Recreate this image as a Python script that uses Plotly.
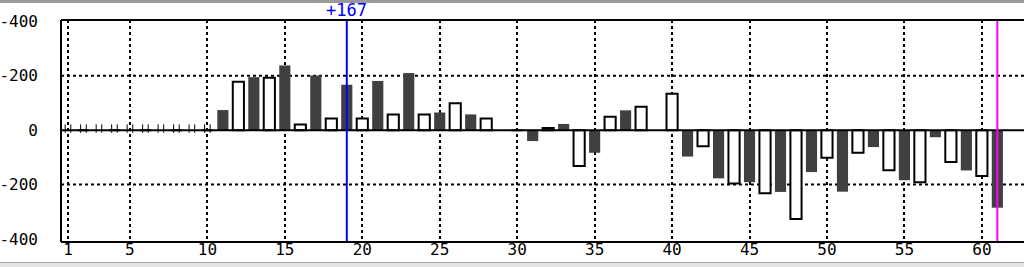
import plotly.graph_objects as go

# ---- data ----
games = list(range(1, 62))
values = [0, 0, 0, 0, 0, 0, 0, 0, 0, 0,
          74, 178, 195, 193, 238, 21, 201, 43, 167, 43,
          181, 58, 210, 58, 65, 99, 58, 43, 0, 0,
          -40, 8, 23, -132, -83, 49, 73, 86, 0, 134,
          -97, -59, -177, -196, -191, -232, -227, -326, -154, -101,
          -226, -83, -62, -147, -184, -191, -26, -117, -148, -168,
          -285]
tick_x = [1, 5, 10, 15, 20, 25, 30, 35, 40, 45, 50, 55, 60]
tick_y = [-400, -200, 0, 200, 400]
tick_y_text = ["-400", "-200", "0", "-200", "-400"]
grid_y = [-200, 200]
marker_x = [1, 2, 3, 4, 5, 6, 7, 8, 9, 10]
blue_x = 19
blue_label = "+167"
magenta_x = 61

DARK = "#404040"
bar_colors = [DARK if g % 2 == 1 else "white" for g in games]
line_colors = [DARK if g % 2 == 1 else "black" for g in games]
line_widths = [0 if g % 2 == 1 else 2 for g in games]

fig = go.Figure()
fig.add_trace(go.Bar(
    x=games, y=values, width=0.72,
    marker=dict(color=bar_colors, line=dict(color=line_colors, width=line_widths)),
    showlegend=False, hoverinfo="x+y",
))

# small tick markers on the zero line
mx, my = [], []
for g in marker_x:
    for d in (-0.18, 0.18):
        mx.append(g + d)
        my.append(6)
fig.add_trace(go.Scatter(
    x=mx, y=my, mode="markers",
    marker=dict(symbol="line-ns", size=6, line=dict(width=1, color="black")),
    showlegend=False, hoverinfo="skip",
))

X0, X1 = 0.55, 62.72
Y0, Y1 = -411, 405

for gy in grid_y:
    fig.add_shape(type="line", xref="paper", yref="y", x0=0, x1=1, y0=gy, y1=gy,
                  line=dict(color="black", width=2, dash="dot"), layer="below")
fig.add_shape(type="line", xref="x", yref="y", x0=X0, x1=X1, y0=0, y1=0,
              line=dict(color="black", width=2), layer="above")
fig.add_shape(type="line", xref="x", yref="paper", x0=blue_x, x1=blue_x, y0=0, y1=1,
              line=dict(color="#0000ff", width=2), layer="above")
fig.add_shape(type="line", xref="x", yref="paper", x0=magenta_x, x1=magenta_x, y0=0, y1=1,
              line=dict(color="#ff00ff", width=2), layer="above")
fig.add_annotation(x=blue_x, xref="x", y=1, yref="paper", yanchor="bottom", yshift=-2,
                   text=blue_label, showarrow=False,
                   font=dict(family="DejaVu Sans Mono", size=17, color="#0000ff"))

# window frame (gray top rule and bottom strip)
H, T, B = 267, 20, 25
ph = H - T - B
def py(pix):
    return (H - B - pix) / ph
fig.add_shape(type="rect", xref="paper", yref="paper", x0=-0.1, x1=1.1,
              y0=py(3), y1=py(-2), fillcolor="#9a9a9a", line=dict(width=0), layer="above")
fig.add_shape(type="rect", xref="paper", yref="paper", x0=-0.1, x1=1.1,
              y0=py(268), y1=py(263), fillcolor="#e4e4e4", line=dict(width=0), layer="above")
fig.add_shape(type="line", xref="paper", yref="paper", x0=-0.1, x1=1.1,
              y0=py(262.5), y1=py(262.5), line=dict(color="#a8a8a8", width=1), layer="above")

fig.update_layout(
    width=1024, height=267,
    margin=dict(l=61, r=0, t=T, b=B),
    paper_bgcolor="white", plot_bgcolor="white",
    font=dict(family="DejaVu Sans Mono", size=16, color="black"),
    xaxis=dict(range=[X0, X1], tickvals=tick_x, ticks="", showgrid=True,
               gridcolor="black", griddash="dot", gridwidth=2,
               showline=False, zeroline=False, ticklabelstandoff=-4,
               tickfont=dict(family="DejaVu Sans Mono", size=16)),
    yaxis=dict(range=[Y0, Y1], tickvals=tick_y, ticktext=tick_y_text, ticks="",
               showgrid=False, showline=False, zeroline=False, ticklabelstandoff=22,
               tickfont=dict(family="DejaVu Sans Mono", size=16)),
)
# plot frame: top, left, bottom
fig.add_shape(type="line", xref="paper", yref="paper", x0=0, x1=1, y0=1, y1=1,
              line=dict(color="black", width=2), layer="above")
fig.add_shape(type="line", xref="paper", yref="paper", x0=0, x1=1, y0=0, y1=0,
              line=dict(color="black", width=2), layer="above")
fig.add_shape(type="line", xref="paper", yref="paper", x0=0, x1=0, y0=0, y1=1,
              line=dict(color="black", width=2), layer="above")

fig.write_html("out.html")
